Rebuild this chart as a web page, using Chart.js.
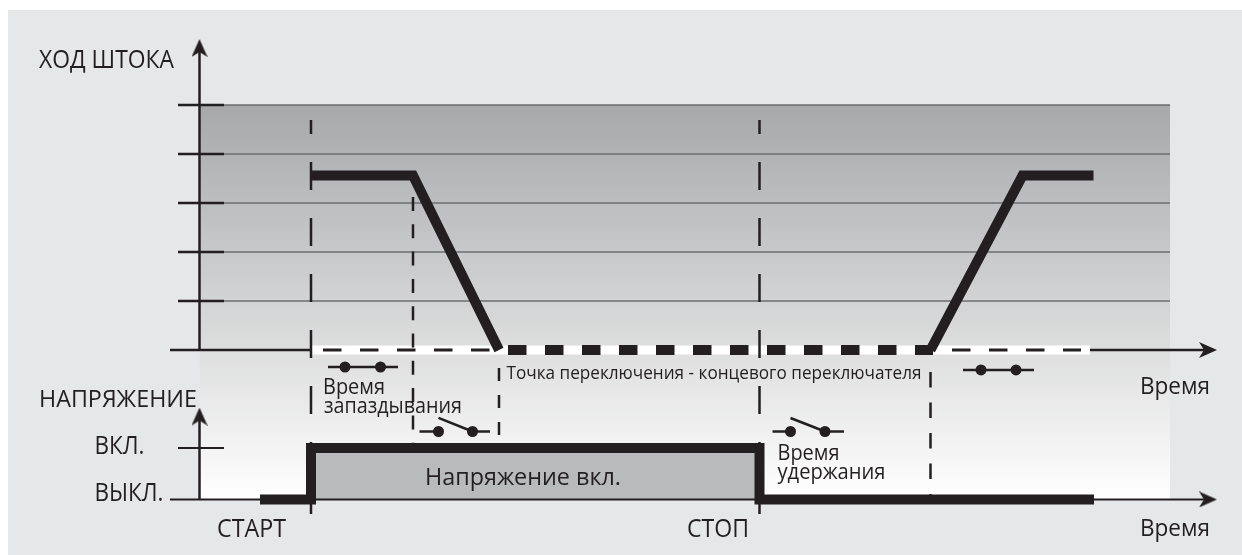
<!DOCTYPE html>
<html lang="ru">
<head>
<meta charset="utf-8">
<title>Ход штока</title>
<script src="https://cdn.jsdelivr.net/npm/chart.js@4/dist/chart.umd.min.js"></script>
<style>
  html, body { margin: 0; padding: 0; background: #fff; overflow: hidden; }
  #panel { position: absolute; left: 8px; top: 10px; width: 1234px; height: 545px; background: #e6e7e8; }
  #chart { position: absolute; left: 0; top: 0; }
</style>
</head>
<body>
<div id="panel"></div>
<canvas id="chart" width="1242" height="555"></canvas>
<script>
  'use strict';

  // ===== Data (time in conditional units, stroke in grid steps, voltage 0 = off, 1 = on) =====
  var strokeLevels = [1, 2, 3, 4, 5];
  var voltageOnLevel = [1];

  var rodFallTime = [11.15, 21.35, 29.95];
  var rodFallLift = [3.56, 3.56, 0];
  var rodRiseTime = [73.1, 82.3, 89.4];
  var rodRiseLift = [0, 3.56, 3.56];

  var voltageTime = [6.05, 11.15, 11.15, 56, 56, 89.45];
  var voltageState = [0, 0, 1, 1, 0, 0];

  var startStopTimes = [11.15, 56];
  var delayEndTime = 21.35;
  var switchPointTime = 29.95;
  var holdEndTime = 73.1;

  var limitLineTime = [11.25, 89.05];
  var thinDashBefore = [12.35, 30.8];
  var thickDashTime = [30.85, 73.35];
  var thinDashAfter = [75.25, 88.15];

  var closedWireA = [12.85, 19.85];
  var closedDotsA = [14.55, 18.1];
  var closedWireB = [76.35, 83.45];
  var closedDotsB = [78.15, 81.65];
  var closedLevelA = -0.347;
  var closedLevelB = -0.408;

  var openWireA = [[22, 23.8], [27.3, 29.05]];
  var openBladeTimeA = [23.9, 27.3];
  var openWireB = [[57.3, 59.05], [62.55, 64.45]];
  var openBladeTimeB = [59.1, 62.55];
  var openBladeLevel = [1.583, 1.32];

  var captions = [
    'ХОД ШТОКА', 'НАПРЯЖЕНИЕ', 'ВКЛ.', 'ВЫКЛ.', 'СТАРТ', 'СТОП', 'Время', 'Время',
    'Время', 'запаздывания', 'Время', 'удержания',
    'Точка переключения - концевого переключателя', 'Напряжение вкл.'
  ];

  // ===== Layout and styles =====
  var INK = '#231f20';
  var FONT = "'Open Sans', sans-serif";

  // x, baseline, width, font size - same order as captions
  var captionLayout = [
    [39, 68, 135, 25], [39, 407, 158, 24], [94.5, 454, 50, 25], [94.5, 501, 69, 25],
    [217, 537, 69, 25], [687, 537, 62, 25], [1140, 394, 70, 23], [1140, 536, 70, 23],
    [323, 394, 62, 22], [324, 413, 138, 22], [777.5, 460, 62, 22], [777.5, 479, 108, 22],
    [506.5, 379, 415, 18], [425, 485, 196, 24]
  ];

  var captionPlugin = {
    id: 'captions',
    afterDatasetsDraw: function (chart) {
      var ctx = chart.ctx;
      ctx.save();
      ctx.fillStyle = INK;
      ctx.textAlign = 'left';
      ctx.textBaseline = 'alphabetic';
      captions.forEach(function (text, i) {
        var p = captionLayout[i];
        ctx.font = '500 ' + p[3] + 'px ' + FONT;
        ctx.fillText(text, p[0], p[1], p[2]);
      });
      ctx.restore();
    }
  };

  function arrowSprite() {
    var c = document.createElement('canvas');
    c.width = 18; c.height = 16;
    var g = c.getContext('2d');
    g.fillStyle = INK;
    g.beginPath();
    g.moveTo(18, 8); g.lineTo(0, 0); g.lineTo(5, 8); g.lineTo(0, 16);
    g.closePath();
    g.fill();
    return c;
  }
  var ARROW = arrowSprite();

  function pts(xs, ys) {
    return xs.map(function (x, i) { return { x: x, y: Array.isArray(ys) ? ys[i] : ys }; });
  }

  function lineDs(data, axis, width, color, dash, dashOffset) {
    return {
      data: data, yAxisID: axis, borderColor: color, borderWidth: width,
      borderDash: dash || [], borderDashOffset: dashOffset || 0,
      borderCapStyle: 'butt', borderJoinStyle: 'miter', pointRadius: 0, tension: 0, fill: false
    };
  }

  function dotsDs(data, axis) {
    return {
      data: data, yAxisID: axis, showLine: false, pointRadius: 5.5, pointBorderWidth: 0,
      pointBackgroundColor: INK, pointStyle: 'circle'
    };
  }

  function arrowDs(x, y, axis, rotation) {
    return {
      data: [{ x: x, y: y }], yAxisID: axis, showLine: false, pointStyle: ARROW,
      pointRadius: 9, pointRotation: rotation
    };
  }

  var datasets = [];

  // background wash from the top of the stroke grid down to the "off" line
  datasets.push({
    data: pts([0, 97.05], [5, 5]), yAxisID: 'yStroke', borderWidth: 0, pointRadius: 0,
    fill: { value: -3.05 },
    backgroundColor: function (c) {
      var chart = c.chart;
      if (!chart.chartArea) return '#d0d0d0';
      var y0 = chart.scales.yStroke.getPixelForValue(5);
      var y1 = chart.scales.yVolt.getPixelForValue(0);
      var grad = chart.ctx.createLinearGradient(0, y0, 0, y1);
      grad.addColorStop(0, '#a7a8aa');
      grad.addColorStop(1, '#ffffff');
      return grad;
    }
  });

  // box under the "on" voltage
  datasets.push({
    data: pts([11.15, 56], [1, 1]), yAxisID: 'yVolt', borderWidth: 0, pointRadius: 0,
    fill: { value: 0 }, backgroundColor: '#b9babc'
  });

  // grid and tick marks of both axes
  strokeLevels.forEach(function (level) {
    datasets.push(lineDs(pts([2.45, 97.05], level), 'yStroke', 1.5, '#6d6e71'));
    datasets.push(lineDs(pts([-2.15, 2.45], level), 'yStroke', 2.5, INK));
  });
  voltageOnLevel.forEach(function (level) {
    datasets.push(lineDs(pts([-2.15, 2.45], level), 'yVolt', 2, INK));
  });

  // axes
  datasets.push(lineDs(pts([0, 0], [0, 6.1]), 'yStroke', 2.5, INK));
  datasets.push(lineDs(pts([0, 0], [0, 1.7]), 'yVolt', 2.5, INK));
  datasets.push(lineDs(pts([-2.95, 100.9], [0, 0]), 'yStroke', 2.5, INK));
  datasets.push(lineDs(pts([-2.95, 100.9], [0, 0]), 'yVolt', 2, INK));
  datasets.push(arrowDs(0, 6.163, 'yStroke', -90));
  datasets.push(arrowDs(0, 1.61, 'yVolt', -90));
  datasets.push(arrowDs(100.85, 0, 'yStroke', 0));
  datasets.push(arrowDs(100.85, 0, 'yVolt', 0));

  // limit switch line: white band with dashes on top
  datasets.push(lineDs(pts(limitLineTime, 0), 'yStroke', 9, '#ffffff'));
  datasets.push(lineDs(pts(thinDashBefore, 0), 'yStroke', 3, INK, [18.5, 18.5]));
  datasets.push(lineDs(pts(thickDashTime, 0), 'yStroke', 10, INK, [18.5, 18.5]));
  datasets.push(lineDs(pts(thinDashAfter, 0), 'yStroke', 3, INK, [18.5, 18.5]));

  // vertical event lines
  startStopTimes.forEach(function (t) {
    datasets.push(lineDs(pts([t, t], [4.694, -3.347]), 'yStroke', 2.5, INK, [28, 28], 14));
  });
  datasets.push(lineDs(pts([delayEndTime, delayEndTime], [3.122, -1.98]), 'yStroke', 2.5, INK, [14, 13.3]));
  datasets.push(lineDs(pts([switchPointTime, switchPointTime], [-0.367, -1.98]), 'yStroke', 2.5, INK, [13, 14]));
  datasets.push(lineDs(pts([holdEndTime, holdEndTime], [-0.449, -3]), 'yStroke', 2.5, INK, [15.5, 15]));

  // thick series
  datasets.push(lineDs(pts(rodFallTime, rodFallLift), 'yStroke', 10, INK));
  datasets.push(lineDs(pts(rodRiseTime, rodRiseLift), 'yStroke', 10, INK));
  datasets.push(lineDs(pts(voltageTime, voltageState), 'yVolt', 10, INK));

  // contact symbols
  datasets.push(lineDs(pts(closedWireA, closedLevelA), 'yStroke', 2.5, INK));
  datasets.push(dotsDs(pts(closedDotsA, closedLevelA), 'yStroke'));
  datasets.push(lineDs(pts(closedWireB, closedLevelB), 'yStroke', 2.5, INK));
  datasets.push(dotsDs(pts(closedDotsB, closedLevelB), 'yStroke'));

  [[openWireA, openBladeTimeA], [openWireB, openBladeTimeB]].forEach(function (sw) {
    sw[0].forEach(function (wire) {
      datasets.push(lineDs(pts(wire, openBladeLevel[1]), 'yVolt', 2.5, INK));
    });
    datasets.push(lineDs(pts(sw[1], openBladeLevel), 'yVolt', 2.5, INK));
    datasets.push(dotsDs(pts([sw[1][0], sw[1][1]], openBladeLevel[1]), 'yVolt'));
  });

  // first pushed is painted first
  datasets.forEach(function (d, i) { d.order = datasets.length - i; d.clip = false; });

  new Chart(document.getElementById('chart').getContext('2d'), {
    type: 'line',
    data: { datasets: datasets },
    options: {
      responsive: false, animation: false, events: [],
      layout: { padding: 0, autoPadding: false },
      plugins: { legend: { display: false }, tooltip: { enabled: false } },
      scales: {
        x: { type: 'linear', display: false, min: -19.95, max: 104.25 },
        yStroke: { type: 'linear', display: false, min: -4.184, max: 7.143 },
        yVolt: { type: 'linear', display: false, min: -1.078, max: 9.699 }
      }
    },
    plugins: [captionPlugin]
  });
</script>
</body>
</html>
